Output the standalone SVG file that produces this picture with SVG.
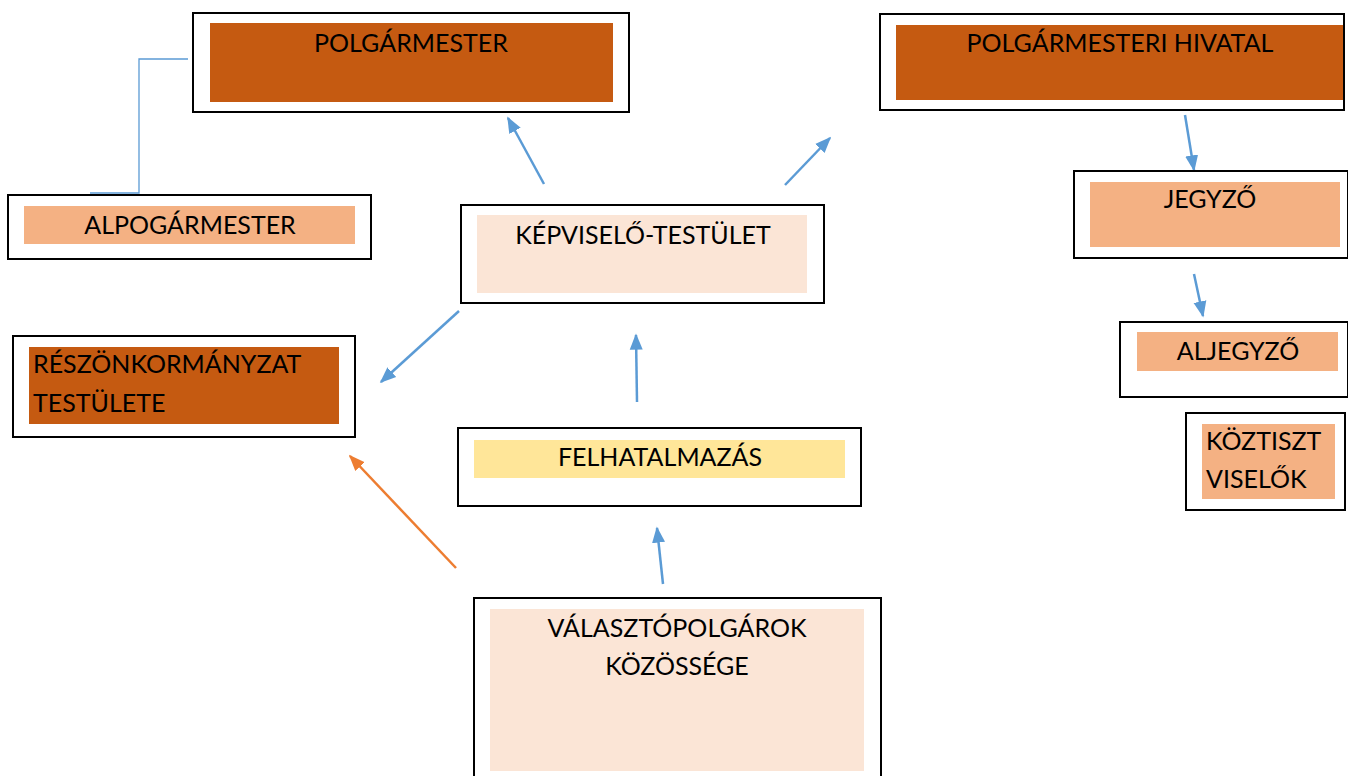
<svg xmlns="http://www.w3.org/2000/svg" width="1348" height="776" viewBox="0 0 1348 776">
<defs>
<style>
.box{fill:#fff;stroke:#000;stroke-width:2}
.dark{fill:#C55A11}
.light{fill:#F4B183}
.pale{fill:#FBE5D6}
.yel{fill:#FFE699}
text{font-family:Lato,"Open Sans","Liberation Sans",sans-serif;font-size:25px;fill:#000}
.c{text-anchor:middle}
.arr{stroke:#5B9BD5;stroke-width:2.5;fill:none;marker-end:url(#ab)}
.arro{stroke:#ED7D31;stroke-width:2.5;fill:none;marker-end:url(#ao)}
</style>
<marker id="ab" viewBox="0 0 10 10" refX="9" refY="5" markerWidth="6.5" markerHeight="6.5" markerUnits="strokeWidth" orient="auto"><path d="M0,1 L10,5 L0,9 Z" fill="#5B9BD5"/></marker>
<marker id="ao" viewBox="0 0 10 10" refX="9" refY="5" markerWidth="6.5" markerHeight="6.5" markerUnits="strokeWidth" orient="auto"><path d="M0,1 L10,5 L0,9 Z" fill="#ED7D31"/></marker>
</defs>
<rect width="1348" height="776" fill="#fff"/>
<g id="connectors">
<polyline points="188,59 139,59 139,193 90,193" fill="none" stroke="#5B9BD5" stroke-width="1.3"/>
<line class="arr" x1="544" y1="184" x2="508" y2="118"/>
<line class="arr" x1="785" y1="185" x2="830" y2="138"/>
<line class="arr" x1="1185" y1="115" x2="1194" y2="170"/>
<line class="arr" x1="1194" y1="274" x2="1203" y2="316"/>
<line class="arr" x1="459" y1="311" x2="381" y2="382"/>
<line class="arro" x1="456" y1="568" x2="350" y2="456"/>
<line class="arr" x1="637" y1="402" x2="636" y2="335"/>
<line class="arr" x1="663" y1="584" x2="657" y2="528"/>
</g>
<g id="polgarmester">
<rect class="box" x="193" y="13" width="436" height="99"/>
<rect class="dark" x="210" y="23" width="403" height="79"/>
<text class="c" x="411" y="52">POLGÁRMESTER</text>
</g>
<g id="hivatal">
<rect class="box" x="880" y="14" width="464" height="96"/>
<rect class="dark" x="896" y="25" width="447" height="75"/>
<text class="c" x="1120" y="52">POLGÁRMESTERI HIVATAL</text>
</g>
<g id="alpolgarmester">
<rect class="box" x="8" y="195" width="363" height="64"/>
<rect class="light" x="24" y="206" width="331" height="38"/>
<text class="c" x="190" y="234">ALPOGÁRMESTER</text>
</g>
<g id="kepviselo">
<rect class="box" x="461" y="205" width="363" height="98"/>
<rect class="pale" x="477" y="215" width="330" height="78"/>
<text class="c" x="643" y="244">KÉPVISELŐ-TESTÜLET</text>
</g>
<g id="jegyzo">
<rect class="box" x="1074" y="171" width="274" height="87"/>
<rect class="light" x="1090" y="182" width="250" height="65"/>
<text class="c" x="1210" y="208">JEGYZŐ</text>
</g>
<g id="aljegyzo">
<rect class="box" x="1120" y="322" width="228" height="75"/>
<rect class="light" x="1137" y="332" width="201" height="39"/>
<text class="c" x="1238" y="360">ALJEGYZŐ</text>
</g>
<g id="koztisztviselok">
<rect class="box" x="1186" y="413" width="159" height="97"/>
<rect class="light" x="1202" y="424" width="133" height="75"/>
<text x="1206" y="450">KÖZTISZT</text>
<text x="1206" y="488">VISELŐK</text>
</g>
<g id="reszonkormanyzat">
<rect class="box" x="13" y="336" width="342" height="101"/>
<rect class="dark" x="29" y="347" width="310" height="77"/>
<text x="33" y="373">RÉSZÖNKORMÁNYZAT</text>
<text x="33" y="412">TESTÜLETE</text>
</g>
<g id="felhatalmazas">
<rect class="box" x="458" y="428" width="403" height="78"/>
<rect class="yel" x="474" y="440" width="371" height="38"/>
<text class="c" x="660" y="466">FELHATALMAZÁS</text>
</g>
<g id="valasztopolgarok">
<rect class="box" x="474" y="598" width="407" height="182"/>
<rect class="pale" x="490" y="609" width="374" height="162"/>
<text class="c" x="677" y="637">VÁLASZTÓPOLGÁROK</text>
<text class="c" x="677" y="675">KÖZÖSSÉGE</text>
</g>
</svg>
